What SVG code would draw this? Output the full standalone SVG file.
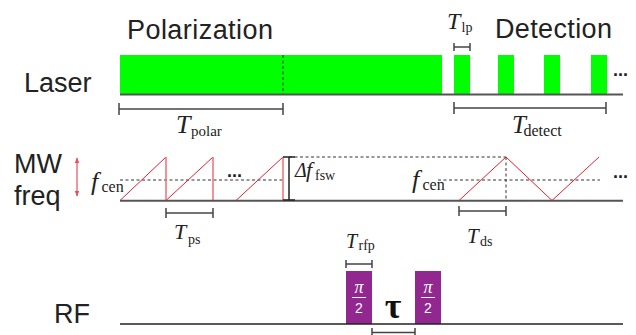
<svg xmlns="http://www.w3.org/2000/svg" width="636" height="335" viewBox="0 0 636 335">
<defs>
<style>
.lbl{font-family:"Liberation Sans",Arial,sans-serif;font-size:27px;fill:#222}
.ti{font-family:"Liberation Serif","Times New Roman",serif;font-style:italic;fill:#222}
.sub{font-family:"Liberation Serif","Times New Roman",serif;fill:#222}
.dots{font-family:"Liberation Sans",Arial,sans-serif;font-size:18px;font-weight:bold;fill:#222}
.base{stroke:#555;stroke-width:2;fill:none}
.br{stroke:#444;stroke-width:1.5;fill:none}
.dash{stroke:#333;stroke-width:1;stroke-dasharray:3 2.5;fill:none}
.green{fill:#00ff00}
.rf{fill:#92278f}
.red{stroke:#e8202a;stroke-width:1;fill:none}
.redv{stroke:#f07078;stroke-width:1.5;fill:none}
.pi{font-family:"Liberation Serif","Times New Roman",serif;font-style:italic;font-size:18px;fill:#fff}
.two{font-family:"Liberation Sans",Arial,sans-serif;font-size:14px;fill:#fff}
</style>
<marker id="ah" viewBox="0 0 10 10" refX="9" refY="5" markerWidth="5" markerHeight="5" orient="auto-start-reverse">
<path d="M0,1 L10,5 L0,9 z" fill="#e85060"/>
</marker>
</defs>

<g id="titles">
<text class="lbl" x="127" y="39" textLength="146">Polarization</text>
<text class="lbl" x="495" y="38" textLength="117">Detection</text>
</g>

<g id="laser">
<text class="lbl" x="24" y="92">Laser</text>
<rect class="green" x="120" y="55" width="322" height="39.5"/>
<rect class="green" x="454" y="55" width="16" height="39.5"/>
<rect class="green" x="498" y="55" width="16" height="39.5"/>
<rect class="green" x="544" y="55" width="16" height="39.5"/>
<rect class="green" x="591" y="55" width="16" height="39.5"/>
<line class="base" x1="120" y1="94.5" x2="623" y2="94.5"/>
<line class="dash" x1="283" y1="55" x2="283" y2="94"/>
<text class="dots" x="613" y="76">...</text>
</g>

<g id="laser-labels">
<path class="br" d="M119,109 H283 M119,103 V115 M283,103 V115"/>
<text class="ti" x="176" y="132.5" font-size="26">T</text>
<text class="sub" x="191" y="136" font-size="15">polar</text>
<path class="br" d="M454,47 H470 M454,43 V51 M470,43 V51"/>
<text class="ti" x="447" y="29" font-size="24">T</text>
<text class="sub" x="461.5" y="32" font-size="14">lp</text>
<path class="br" d="M454,108 H606 M454,102 V114 M606,102 V114"/>
<text class="ti" x="512" y="132.5" font-size="25">T</text>
<text class="sub" x="523.5" y="136" font-size="16">detect</text>
</g>

<g id="mw">
<text class="lbl" x="14" y="173">MW</text>
<text class="lbl" x="14" y="205">freq</text>
<line x1="77" y1="158" x2="77" y2="196" stroke="#e85060" stroke-width="1.2" marker-start="url(#ah)" marker-end="url(#ah)"/>
<line class="dash" x1="120" y1="180" x2="283" y2="180"/>
<line class="dash" x1="289" y1="157" x2="506" y2="157"/>
<line class="dash" x1="438" y1="180" x2="600" y2="180"/>
<line class="dash" x1="506" y1="157" x2="506" y2="200"/>
<path class="red" d="M120,200.5 L166,157 M166,200.5 L213,157 M236,200.5 L283,157"/>
<path class="redv" d="M166,157 V200 M213,157 V200 M283,157 V200"/>
<path class="red" d="M459,200.5 L506,157 L552,200.5 L599,157"/>
<line class="base" x1="120" y1="200.7" x2="623" y2="200.7"/>
<text class="dots" x="227" y="177">...</text>
<text class="dots" x="613" y="178">...</text>
<path d="M289,157 V200 M283,157 H295 M283,200 H295" stroke="#222" stroke-width="1.5" fill="none"/>
</g>

<g id="mw-labels">
<text class="ti" x="91" y="190" font-size="26">f</text>
<text class="sub" x="101.5" y="192" font-size="16">cen</text>
<text class="ti" x="412" y="188" font-size="26">f</text>
<text class="sub" x="422.5" y="190" font-size="16">cen</text>
<text class="ti" x="295" y="177" font-size="20">Δ</text>
<text class="ti" x="306" y="177" font-size="22">f</text>
<text class="sub" x="315" y="180" font-size="14">fsw</text>
<path class="br" d="M166,213 H213 M166,208 V218 M213,208 V218"/>
<text class="ti" x="174" y="238.5" font-size="22">T</text>
<text class="sub" x="188" y="244" font-size="14">ps</text>
<path class="br" d="M459,211 H506 M459,206 V216 M506,206 V216"/>
<text class="ti" x="467" y="243" font-size="21">T</text>
<text class="sub" x="480" y="246" font-size="14">ds</text>
</g>

<g id="rf">
<text class="lbl" x="54" y="323">RF</text>
<rect class="rf" x="346" y="271" width="26" height="53"/>
<rect class="rf" x="415" y="271" width="26" height="53"/>
<line x1="120" y1="324" x2="623" y2="324" stroke="#222" stroke-width="1.5"/>
<text class="pi" x="359" y="293" text-anchor="middle">π</text>
<line x1="352" y1="297.5" x2="366" y2="297.5" stroke="#fff" stroke-width="1"/>
<text class="two" x="359" y="313" text-anchor="middle">2</text>
<text class="pi" x="428" y="293" text-anchor="middle">π</text>
<line x1="421" y1="297.5" x2="435" y2="297.5" stroke="#fff" stroke-width="1"/>
<text class="two" x="428" y="313" text-anchor="middle">2</text>
<text x="393" y="318" text-anchor="middle" font-family="'Liberation Serif','Times New Roman',serif" font-weight="bold" font-size="36" fill="#111">τ</text>
</g>

<g id="rf-labels">
<path class="br" d="M346,264 H372 M346,260 V268 M372,260 V268"/>
<text class="ti" x="346" y="248" font-size="20">T</text>
<text class="sub" x="358.5" y="250" font-size="14">rfp</text>
<path class="br" d="M372,332.5 H415 M372,328 V336 M415,328 V336"/>
</g>
</svg>
